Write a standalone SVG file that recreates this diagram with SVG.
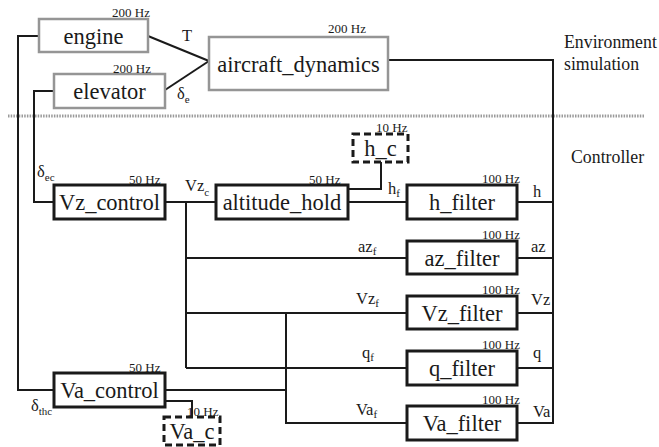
<svg xmlns="http://www.w3.org/2000/svg" width="659" height="447" viewBox="0 0 659 447" font-family="'Liberation Serif', 'DejaVu Serif', serif">
<style>
text{font-family:'Liberation Serif','DejaVu Serif',serif;fill:#1a1a1a}
.lbl{font-size:22.5px;text-anchor:middle}
.hz{font-size:13px}
.sig{font-size:16.5px}
.sub{font-size:11px}
.side{font-size:17.8px}
.sim{fill:#fff;stroke:#959595;stroke-width:2.5}
.ctl{fill:#fff;stroke:#1a1a1a;stroke-width:3}
.cmd{fill:#fff;stroke:#1a1a1a;stroke-width:3;stroke-dasharray:7 4}
.wire{fill:none;stroke:#1a1a1a;stroke-width:2}
</style>
<rect width="659" height="447" fill="#fff"/>
<line x1="8" y1="116" x2="645" y2="116" stroke="#9a9a9a" stroke-width="3" stroke-dasharray="1.5 1.2"/>
<g id="connectors">
<polyline class="wire" points="39,36 18,36 18,390 54,390"/>
<polyline class="wire" points="54,91 34,91 34,202 54,202"/>
<polyline class="wire" points="148,36 209,61"/>
<polyline class="wire" points="165,90 209,61"/>
<polyline class="wire" points="388,60 553,60 553,423 517,423"/>
<line class="wire" x1="517" y1="202" x2="553" y2="202"/>
<line class="wire" x1="517" y1="258" x2="553" y2="258"/>
<line class="wire" x1="517" y1="313" x2="553" y2="313"/>
<line class="wire" x1="517" y1="368" x2="553" y2="368"/>
<line class="wire" x1="165" y1="202" x2="216" y2="202"/>
<line class="wire" x1="348" y1="202" x2="407" y2="202"/>
<polyline class="wire" points="381,162 381,189 348,189"/>
<line class="wire" x1="186" y1="202" x2="186" y2="368"/>
<line class="wire" x1="186" y1="258" x2="407" y2="258"/>
<line class="wire" x1="186" y1="313" x2="407" y2="313"/>
<line class="wire" x1="186" y1="368" x2="407" y2="368"/>
<polyline class="wire" points="286,313 286,423 407,423"/>
<line class="wire" x1="165" y1="390" x2="286" y2="390"/>
<polyline class="wire" points="165,401 192,401 192,417"/>
</g>
<g id="engine"><rect class="sim" x="39" y="19" width="109" height="33"/><text class="lbl" x="93.5" y="43.5">engine</text><text class="hz" x="112" y="17">200 Hz</text></g>
<g id="elevator"><rect class="sim" x="54" y="74" width="111" height="34"/><text class="lbl" x="109.5" y="99">elevator</text><text class="hz" x="113" y="73">200 Hz</text></g>
<g id="aircraft_dynamics"><rect class="sim" x="209" y="37" width="179" height="53"/><text class="lbl" x="298.5" y="71.5">aircraft_dynamics</text><text class="hz" x="328" y="33">200 Hz</text></g>
<g id="Vz_control"><rect class="ctl" x="54" y="185" width="111" height="34"/><text class="lbl" x="109.5" y="210">Vz_control</text><text class="hz" x="129" y="184">50 Hz</text></g>
<g id="altitude_hold"><rect class="ctl" x="216" y="185" width="132" height="34"/><text class="lbl" x="282" y="210">altitude_hold</text><text class="hz" x="309" y="184">50 Hz</text></g>
<g id="h_c"><rect class="cmd" x="353" y="134" width="55" height="28"/><text class="lbl" x="380.5" y="156">h_c</text><text class="hz" x="376" y="132">10 Hz</text></g>
<g id="h_filter"><rect class="ctl" x="407" y="185" width="110" height="34"/><text class="lbl" x="462" y="210">h_filter</text><text class="hz" x="482" y="183">100 Hz</text></g>
<g id="az_filter"><rect class="ctl" x="407" y="241" width="110" height="33"/><text class="lbl" x="462" y="266">az_filter</text><text class="hz" x="482" y="239">100 Hz</text></g>
<g id="Vz_filter"><rect class="ctl" x="407" y="296" width="110" height="33"/><text class="lbl" x="462" y="321">Vz_filter</text><text class="hz" x="482" y="294">100 Hz</text></g>
<g id="q_filter"><rect class="ctl" x="407" y="351" width="110" height="34"/><text class="lbl" x="462" y="376">q_filter</text><text class="hz" x="482" y="349">100 Hz</text></g>
<g id="Va_filter"><rect class="ctl" x="407" y="406" width="110" height="34"/><text class="lbl" x="462" y="431">Va_filter</text><text class="hz" x="482" y="404">100 Hz</text></g>
<g id="Va_control"><rect class="ctl" x="54" y="373" width="111" height="34"/><text class="lbl" x="109.5" y="398">Va_control</text><text class="hz" x="129" y="372">50 Hz</text></g>
<g id="Va_c"><rect class="cmd" x="164" y="417" width="56" height="28"/><text class="lbl" x="192" y="439">Va_c</text><text class="hz" x="187" y="416">10 Hz</text></g>
<g id="labels">
<text class="sig" x="182" y="41">T</text>
<text class="sig" x="177" y="99">δ<tspan class="sub" dy="4">e</tspan></text>
<text class="sig" x="37" y="177">δ<tspan class="sub" dy="4">ec</tspan></text>
<text class="sig" x="185" y="191">Vz<tspan class="sub" dy="5">c</tspan></text>
<text class="sig" x="388" y="194">h<tspan class="sub" dy="3">f</tspan></text>
<text class="sig" x="533" y="197">h</text>
<text class="sig" x="358" y="252">az<tspan class="sub" dy="3">f</tspan></text>
<text class="sig" x="531" y="252">az</text>
<text class="sig" x="356" y="304">Vz<tspan class="sub" dy="3">f</tspan></text>
<text class="sig" x="531" y="305">Vz</text>
<text class="sig" x="362" y="358">q<tspan class="sub" dy="3">f</tspan></text>
<text class="sig" x="533" y="358">q</text>
<text class="sig" x="356" y="415">Va<tspan class="sub" dy="3">f</tspan></text>
<text class="sig" x="533" y="417">Va</text>
<text class="sig" x="31" y="411">δ<tspan class="sub" dy="4">thc</tspan></text>
<text class="side" x="564" y="48">Environment</text>
<text class="side" x="564" y="70">simulation</text>
<text class="side" x="571" y="163">Controller</text>
</g>
</svg>
